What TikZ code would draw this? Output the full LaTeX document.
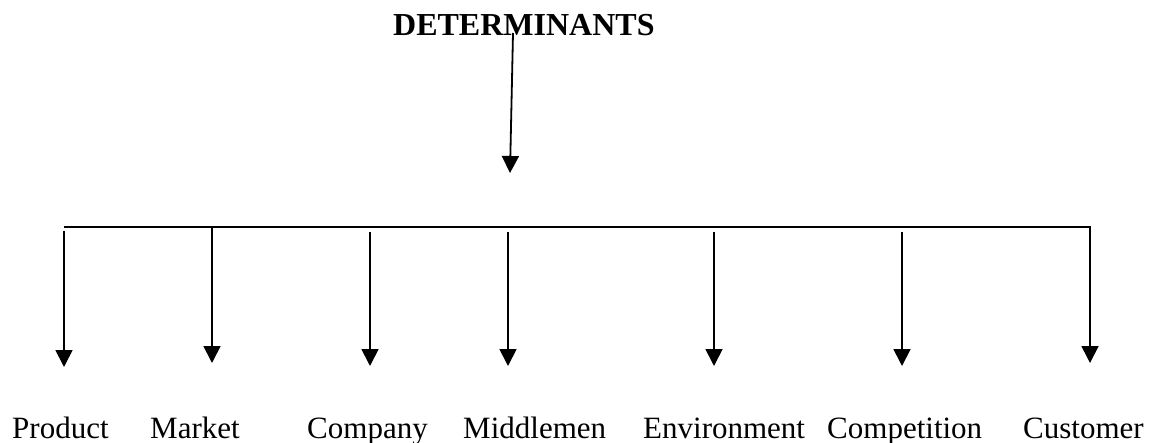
\documentclass[tikz,border=0pt]{standalone}
\usepackage{fontspec}
\setmainfont{Liberation Serif}
\usetikzlibrary{arrows.meta}
\begin{document}
\begin{tikzpicture}[x=1pt,y=-1pt,
  conn/.style={line width=1.8pt},
  arr/.style={conn,-{Triangle[length=17pt,width=17pt]}},
  lbl/.style={anchor=base west,inner sep=0pt,font=\fontsize{31}{37}\selectfont},
  ttl/.style={anchor=base west,inner sep=0pt,font=\fontsize{32}{38}\selectfont\bfseries}]
\useasboundingbox (0,0) rectangle (1155,443);
% title
\node[ttl] (title) at (393,36) {DETERMINANTS};
\coordinate (ts) at (513,33);
\coordinate (te) at (510,173);
\draw[arr] (ts) -- (te);
% bar
\coordinate (bl) at (64,227);
\coordinate (br) at (1090,227);
\draw[conn] (bl) -- (br);
% labels
\node[lbl] (product) at (12,438) {Product};
\node[lbl] (market) at (150,438) {Market};
\node[lbl] (company) at (307,438) {Company};
\node[lbl] (middlemen) at (463,438) {Middlemen};
\node[lbl] (environment) at (643,438) {Environment};
\node[lbl] (competition) at (827,438) {Competition};
\node[lbl] (customer) at (1023,438) {Customer};
% arrow coordinates
\coordinate (s1) at (64,231);   \coordinate (e1) at (64,367);
\coordinate (s2) at (212,227);  \coordinate (e2) at (212,363);
\coordinate (s3) at (370,232);  \coordinate (e3) at (370,366);
\coordinate (s4) at (508,232);  \coordinate (e4) at (508,366);
\coordinate (s5) at (714,232);  \coordinate (e5) at (714,366);
\coordinate (s6) at (902,232);  \coordinate (e6) at (902,366);
\coordinate (e7) at (1090,363);
\draw[arr] (s1) -- (e1);
\draw[arr] (s2) -- (e2);
\draw[arr] (s3) -- (e3);
\draw[arr] (s4) -- (e4);
\draw[arr] (s5) -- (e5);
\draw[arr] (s6) -- (e6);
\draw[arr,line join=miter] ([xshift=-1pt]br) -- (br) -- (e7);
\end{tikzpicture}
\end{document}
